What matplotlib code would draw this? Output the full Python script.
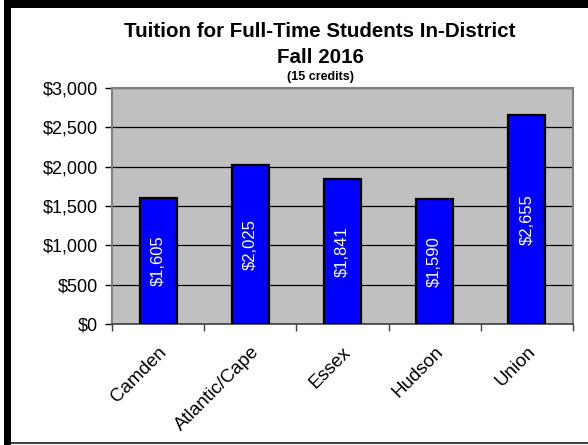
import matplotlib
matplotlib.use('Agg')
import matplotlib.pyplot as plt
from matplotlib.patches import Rectangle
import numpy as np

plt.rcParams['font.family'] = ['Liberation Sans', 'DejaVu Sans']

colleges = ['Camden', 'Atlantic/Cape', 'Essex', 'Hudson', 'Union']
tuition = [1605, 2025, 1841, 1590, 2655]
yticks = [0, 500, 1000, 1500, 2000, 2500, 3000]

W, H = 588, 445
fig = plt.figure(figsize=(W / 100, H / 100), dpi=100)
fig.patch.set_facecolor('white')

# black frame (thick top/left, thin bottom)
fig.patches.append(Rectangle((4 / W, 1 - 8 / H), 1 - 4 / W, 8 / H, transform=fig.transFigure,
                             facecolor='black', edgecolor='none', zorder=0))
fig.patches.append(Rectangle((4 / W, 0), 7 / W, 1, transform=fig.transFigure,
                             facecolor='black', edgecolor='none', zorder=0))
fig.patches.append(Rectangle((11 / W, 1 / H), 1, 2 / H, transform=fig.transFigure,
                             facecolor='#404040', edgecolor='none', zorder=0))

ax = fig.add_axes([112 / W, 1 - 324 / H, (573 - 112) / W, (324 - 88) / H])
ax.set_facecolor('#C0C0C0')

x = np.arange(len(colleges))
ax.bar(x, tuition, width=0.4, color='#0000FF', edgecolor='black', linewidth=1.6, zorder=3)
for xi, v in zip(x, tuition):
    ax.text(xi, v / 2, '${:,}'.format(v), rotation=90, ha='center', va='center',
            color='white', fontsize=12, zorder=4)

ax.set_xlim(-0.5, len(colleges) - 0.5)
ax.set_ylim(0, 3000)
ax.set_yticks(yticks)
ax.set_yticklabels(['${:,}'.format(t) for t in yticks], fontsize=13)
ax.yaxis.grid(True, color='black', linewidth=0.9, zorder=1)
ax.set_axisbelow(True)

ax.set_xticks(np.arange(-0.5, len(colleges), 1.0))
ax.set_xticklabels([])
ax.set_xticks(x, minor=True)
ax.set_xticklabels(colleges, minor=True, rotation=45, ha='right', va='top',
                   rotation_mode='anchor', fontsize=13.5)
ax.tick_params(axis='x', which='minor', length=0, pad=14)
ax.tick_params(axis='x', which='major', length=5, color='#404040', width=1)
ax.tick_params(axis='y', length=5, color='black', width=1, pad=5)

for s in ['top', 'right', 'left']:
    ax.spines[s].set_color('#808080')
    ax.spines[s].set_linewidth(1.5)
ax.spines['bottom'].set_color('#404040')
ax.spines['bottom'].set_linewidth(1.2)

cx = 320 / W
fig.text(cx, 1 - 37 / H, 'Tuition for Full-Time Students In-District', ha='center', va='baseline',
         fontsize=14.8, fontweight='bold')
fig.text(cx, 1 - 63 / H, 'Fall 2016', ha='center', va='baseline',
         fontsize=14.8, fontweight='bold')
fig.text(cx, 1 - 80 / H, '(15 credits)', ha='center', va='baseline',
         fontsize=9, fontweight='bold')

fig.savefig('out.png', dpi=100)
